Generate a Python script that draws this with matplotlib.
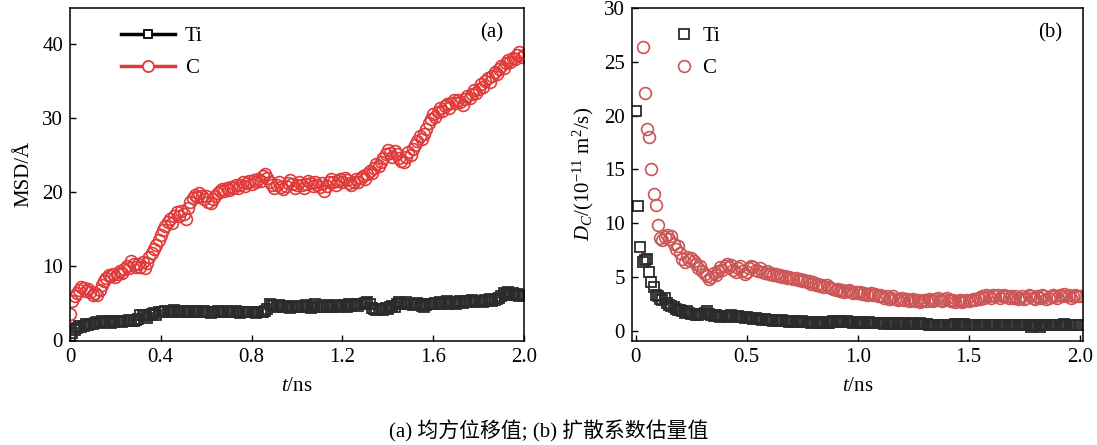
import numpy as np
import matplotlib
matplotlib.use("Agg")
import matplotlib.pyplot as plt
from matplotlib.lines import Line2D

plt.rcParams['font.family'] = ['Liberation Serif', 'Noto Sans CJK SC', 'DejaVu Sans']
plt.rcParams['mathtext.fontset'] = 'custom'
plt.rcParams['mathtext.rm'] = 'Liberation Serif'
plt.rcParams['mathtext.it'] = 'Liberation Serif:italic'

# time axis (ns), sampled every 0.01 ns
t = np.round(np.arange(201) * 0.01, 2)

msd_c = [
    3.5, 5.2, 5.9, 6.3, 6.8, 7.2, 7.0, 6.6, 6.9, 6.4,
    6.1, 6.3, 6.0, 6.8, 7.4, 7.9, 8.4, 8.8, 8.6, 8.9,
    8.5, 8.9, 9.3, 9.0, 9.6, 10.0, 9.7, 10.6, 10.2, 9.8,
    10.3, 9.9, 10.5, 9.7, 10.4, 11.2, 11.8, 12.3, 12.8, 13.5,
    14.2, 14.9, 15.4, 15.9, 16.3, 15.8, 16.8, 17.3, 16.7, 17.4,
    17.0, 16.3, 17.8, 18.6, 19.2, 19.6, 19.3, 19.8, 19.5, 19.1,
    19.4, 18.7, 18.5, 19.0, 19.4, 19.9, 20.1, 20.4, 20.2, 20.5,
    20.3, 20.7, 20.5, 20.9, 20.6, 21.0, 21.3, 20.8, 21.2, 21.5,
    21.1, 21.6, 21.3, 21.8, 21.5, 22.1, 22.4, 21.9, 21.4, 21.0,
    20.6, 20.9, 21.3, 20.7, 20.4, 20.8, 21.2, 21.6, 21.1, 20.6,
    20.9, 21.4, 21.0, 20.6, 21.1, 21.5, 21.2, 20.8, 21.3, 21.0,
    20.7, 21.2, 20.1, 20.8, 21.4, 21.7, 21.3, 21.0, 21.5, 21.8,
    21.4, 21.9, 21.6, 21.2, 20.9, 21.3, 21.7, 21.4, 21.9, 22.2,
    21.8, 22.4, 22.9, 22.6, 23.3, 23.8, 23.5, 24.1, 24.6, 25.2,
    25.7, 25.3, 24.8, 25.5, 25.1, 24.6, 24.2, 24.0, 24.8, 25.4,
    25.0, 25.8, 26.3, 26.9, 27.6, 27.2, 27.9, 28.5, 29.3, 29.9,
    30.5, 30.1, 30.8, 31.3, 31.0, 31.6, 31.9, 31.4, 32.1, 32.4,
    32.0, 32.5, 32.2, 31.8, 32.6, 33.0, 32.7, 33.3, 33.8, 33.4,
    34.0, 34.6, 34.2, 35.0, 35.4, 34.9, 35.7, 36.3, 36.0, 36.6,
    37.1, 36.8, 37.5, 37.9, 37.6, 38.2, 38.0, 38.5, 38.9, 38.3,
    38.6,
]

msd_ti = [
    0.5, 0.9, 1.3, 1.6, 1.8, 1.7, 1.9, 2.1, 2.0, 2.2,
    2.1, 2.3, 2.4, 2.3, 2.5, 2.4, 2.4, 2.5, 2.3, 2.5,
    2.4, 2.5, 2.6, 2.4, 2.6, 2.5, 2.7, 2.6, 2.5, 2.7,
    2.8, 3.3, 3.4, 3.2, 2.9, 3.4, 3.5, 3.6, 3.3, 3.7,
    3.8, 3.7, 3.9, 3.8, 3.9, 3.8, 4.0, 3.9, 3.8, 3.9,
    3.8, 3.9, 3.8, 3.7, 3.9, 3.8, 3.9, 3.7, 3.8, 3.9,
    3.8, 3.7, 3.6, 3.8, 3.7, 3.9, 3.8, 3.7, 3.8, 3.9,
    3.8, 3.7, 3.8, 3.9, 3.8, 3.6, 3.7, 3.8, 3.7, 3.8,
    3.7, 3.8, 3.6, 3.7, 3.8, 3.7, 3.9, 4.2, 4.8, 4.7,
    4.6, 4.5, 4.7, 4.6, 4.4, 4.6, 4.5, 4.3, 4.5, 4.6,
    4.4, 4.5, 4.6, 4.4, 4.7, 4.5, 4.3, 4.6, 4.8, 4.5,
    4.4, 4.6, 4.5, 4.7, 4.4, 4.6, 4.5, 4.7, 4.6, 4.5,
    4.6, 4.7, 4.5, 4.8, 4.6, 4.7, 4.9, 4.6, 4.8, 4.9,
    5.0, 5.1, 4.9, 4.3, 4.1, 4.0, 4.2, 4.1, 4.0, 4.3,
    4.2, 4.4, 4.6, 4.5, 4.9, 5.1, 5.0, 4.8, 5.1, 4.9,
    4.8, 4.7, 4.9, 5.0, 4.8, 4.6, 4.5, 4.7, 4.9, 4.8,
    4.9, 5.0, 4.8, 5.1, 4.9, 5.0, 5.2, 4.9, 5.1, 5.0,
    4.9, 5.1, 5.2, 5.0, 5.3, 5.1, 5.2, 5.4, 5.3, 5.1,
    5.2, 5.3, 5.1, 5.4, 5.2, 5.5, 5.3, 5.4, 5.5, 5.6,
    5.9, 6.3, 6.2, 6.4, 6.1, 6.3, 6.0, 6.2, 5.9, 6.1,
    5.9,
]

d_c = [
    95.0, 48.0, 33.0, 26.4, 22.1, 18.8, 18.0, 15.0, 12.7, 11.7,
    9.8, 8.6, 8.4, 8.7, 8.9, 8.5, 8.8, 8.1, 7.6, 7.9,
    7.2, 6.7, 6.4, 6.9, 6.6, 6.8, 6.5, 6.2, 5.8, 6.0,
    5.6, 5.3, 5.1, 4.8, 5.0, 5.4, 5.2, 5.6, 5.9, 5.7,
    6.0, 6.2, 5.9, 6.1, 5.7, 5.5, 5.8, 6.0, 5.6, 5.3,
    5.5, 5.8, 6.0, 5.9, 5.7, 5.6, 5.8, 5.5, 5.4, 5.6,
    5.3, 5.4, 5.2, 5.3, 5.1, 5.2, 5.0, 5.1, 4.9, 5.0,
    4.9, 4.8, 4.9, 4.7, 4.8, 4.6, 4.7, 4.5, 4.6, 4.4,
    4.5, 4.3, 4.4, 4.2, 4.3, 4.1, 4.3, 4.1, 4.0, 3.9,
    3.8, 3.9, 3.7, 3.8, 3.6, 3.7, 3.8, 3.6, 3.5, 3.6,
    3.5, 3.6, 3.4, 3.5, 3.3, 3.4, 3.5, 3.3, 3.4, 3.2,
    3.3, 3.2, 3.1, 3.2, 3.0, 3.1, 3.2, 3.0, 2.9, 3.0,
    3.1, 2.9, 3.0, 2.8, 2.9, 3.0, 2.8, 2.9, 2.7, 2.8,
    2.9, 2.8, 3.0, 2.9, 2.8, 3.0, 3.1, 2.9, 2.8, 3.0,
    3.1, 2.9, 2.8, 2.9, 2.7, 2.8, 2.9, 2.7, 2.8, 2.9,
    2.8, 2.9, 3.0, 2.9, 3.1, 3.0, 3.2, 3.1, 3.3, 3.2,
    3.1, 3.3, 3.2, 3.3, 3.1, 3.2, 3.3, 3.2, 3.1, 3.2,
    3.1, 3.2, 3.0, 3.1, 3.2, 3.0, 3.1, 3.3, 3.2, 3.1,
    3.0, 3.2, 3.1, 3.3, 3.2, 3.0, 3.1, 3.2, 3.3, 3.2,
    3.1, 3.3, 3.2, 3.4, 3.2, 3.3, 3.1, 3.2, 3.3, 3.2,
    3.2,
]

d_ti = [
    20.4, 11.6, 7.8, 6.4, 6.6, 6.7, 5.5, 4.5, 4.1, 3.3,
    3.2, 3.0, 2.9, 3.1, 2.6, 2.4, 2.3, 2.2, 2.0, 1.9,
    1.9, 1.8, 1.7, 1.8, 1.7, 1.6, 1.6, 1.5, 1.5, 1.6,
    1.6, 1.7, 1.8, 1.6, 1.5, 1.4, 1.5, 1.4, 1.3, 1.4,
    1.4, 1.3, 1.4, 1.5, 1.4, 1.3, 1.4, 1.3, 1.3, 1.2,
    1.3, 1.2, 1.2, 1.1, 1.2, 1.1, 1.1, 1.0, 1.1, 1.0,
    1.0, 1.0, 0.9, 1.0, 0.9, 0.9, 1.0, 0.9, 0.9, 0.8,
    0.9, 0.8, 0.9, 0.8, 0.8, 0.9, 0.8, 0.8, 0.8, 0.7,
    0.8, 0.7, 0.8, 0.7, 0.7, 0.8, 0.7, 0.7, 0.8, 0.9,
    0.9, 0.8, 0.9, 0.8, 0.8, 0.9, 0.8, 0.8, 0.7, 0.8,
    0.8, 0.7, 0.8, 0.7, 0.7, 0.8, 0.7, 0.7, 0.7, 0.7,
    0.7, 0.7, 0.6, 0.7, 0.7, 0.6, 0.7, 0.6, 0.7, 0.6,
    0.6, 0.7, 0.6, 0.6, 0.7, 0.6, 0.6, 0.6, 0.7, 0.6,
    0.6, 0.6, 0.5, 0.5, 0.5, 0.5, 0.5, 0.5, 0.5, 0.5,
    0.5, 0.5, 0.5, 0.5, 0.6, 0.6, 0.6, 0.5, 0.6, 0.5,
    0.5, 0.5, 0.5, 0.5, 0.5, 0.5, 0.5, 0.5, 0.5, 0.5,
    0.5, 0.5, 0.5, 0.5, 0.5, 0.5, 0.5, 0.5, 0.5, 0.5,
    0.5, 0.5, 0.5, 0.5, 0.5, 0.5, 0.5, 0.5, 0.4, 0.5,
    0.5, 0.5, 0.4, 0.5, 0.5, 0.5, 0.5, 0.5, 0.5, 0.5,
    0.5, 0.5, 0.5, 0.6, 0.5, 0.5, 0.5, 0.5, 0.5, 0.5,
    0.5,
]

left_xticks = [0, 0.4, 0.8, 1.2, 1.6, 2.0]
left_xticklabels = ["0", "0.4", "0.8", "1.2", "1.6", "2.0"]
left_yticks = [0, 10, 20, 30, 40]
right_xticks = [0, 0.5, 1.0, 1.5, 2.0]
right_xticklabels = ["0", "0.5", "1.0", "1.5", "2.0"]
right_yticks = [0, 5, 10, 15, 20, 25, 30]

caption = "(a) 均方位移值; (b) 扩散系数估量值"

TI_COLOR = "#2b2b2b"
C_COLOR = "#e03a3a"
C_COLOR_B = "#cc5555"
FS = 15

fig = plt.figure(figsize=(10.97, 4.45), dpi=100)
ax1 = fig.add_axes([0.0638, 0.234, 0.4139, 0.748])
ax2 = fig.add_axes([0.576, 0.234, 0.411, 0.748])

# Panel (a)
ax1.plot(t, msd_ti, ls='none', marker='s', ms=6.5, mfc='none', mec=TI_COLOR, mew=1.3)
ax1.plot(t, msd_c, ls='none', marker='o', ms=8.5, mfc='none', mec=C_COLOR, mew=1.2)
ax1.set_xlim(0, 2.0)
ax1.set_ylim(-0.15, 44.9)
ax1.set_xticks(left_xticks)
ax1.set_xticklabels(left_xticklabels)
ax1.set_yticks(left_yticks)
ax1.set_xlabel(r"$t$/ns", fontsize=FS, labelpad=7)
ax1.set_ylabel("MSD/Å", fontsize=FS, labelpad=6)
ax1.text(0.955, 0.955, "(a)", transform=ax1.transAxes, ha='right', va='top', fontsize=FS)

h_ti = Line2D([], [], color='black', lw=2.5, marker='s', ms=6, mfc='white', mec='black', mew=1.3)
h_c = Line2D([], [], color=C_COLOR, lw=2.5, marker='o', ms=8, mfc='white', mec=C_COLOR, mew=1.3)
ax1.legend([h_ti, h_c], ["Ti", "C"], loc='upper left', bbox_to_anchor=(0.07, 1.0),
           frameon=False, fontsize=FS, handlelength=2.6, handletextpad=0.5, labelspacing=0.6)

# Panel (b)
ax2.plot(t, d_ti, ls='none', marker='s', ms=6.5, mfc='none', mec=TI_COLOR, mew=1.3)
ax2.plot(t, d_c, ls='none', marker='o', ms=8.5, mfc='none', mec=C_COLOR_B, mew=1.2)
ax2.set_xlim(-0.018, 2.014)
ax2.set_ylim(-0.93, 30)
ax2.set_xticks(right_xticks)
ax2.set_xticklabels(right_xticklabels)
ax2.set_yticks(right_yticks)
ax2.set_xlabel(r"$t$/ns", fontsize=FS, labelpad=7)
ax2.set_ylabel(r"$D_C$/(10$^{-11}$ m$^2$/s)", fontsize=FS, labelpad=6)
ax2.text(0.955, 0.955, "(b)", transform=ax2.transAxes, ha='right', va='top', fontsize=FS)

h2_ti = Line2D([], [], ls='none', marker='s', ms=6.5, mfc='none', mec=TI_COLOR, mew=1.3)
h2_c = Line2D([], [], ls='none', marker='o', ms=8.5, mfc='none', mec=C_COLOR_B, mew=1.2)
ax2.legend([h2_ti, h2_c], ["Ti", "C"], loc='upper left', bbox_to_anchor=(0.05, 1.0),
           frameon=False, fontsize=FS, handlelength=1.0, handletextpad=0.4, labelspacing=0.6)

for ax in (ax1, ax2):
    ax.tick_params(direction='in', length=4, width=1, labelsize=FS, pad=5)
    for s in ax.spines.values():
        s.set_linewidth(1.1)

fig.text(0.5, 0.03, caption, ha='center', va='center', fontsize=FS,
         family=['Liberation Serif', 'Noto Sans CJK SC'])

fig.savefig("out.png", dpi=100)
